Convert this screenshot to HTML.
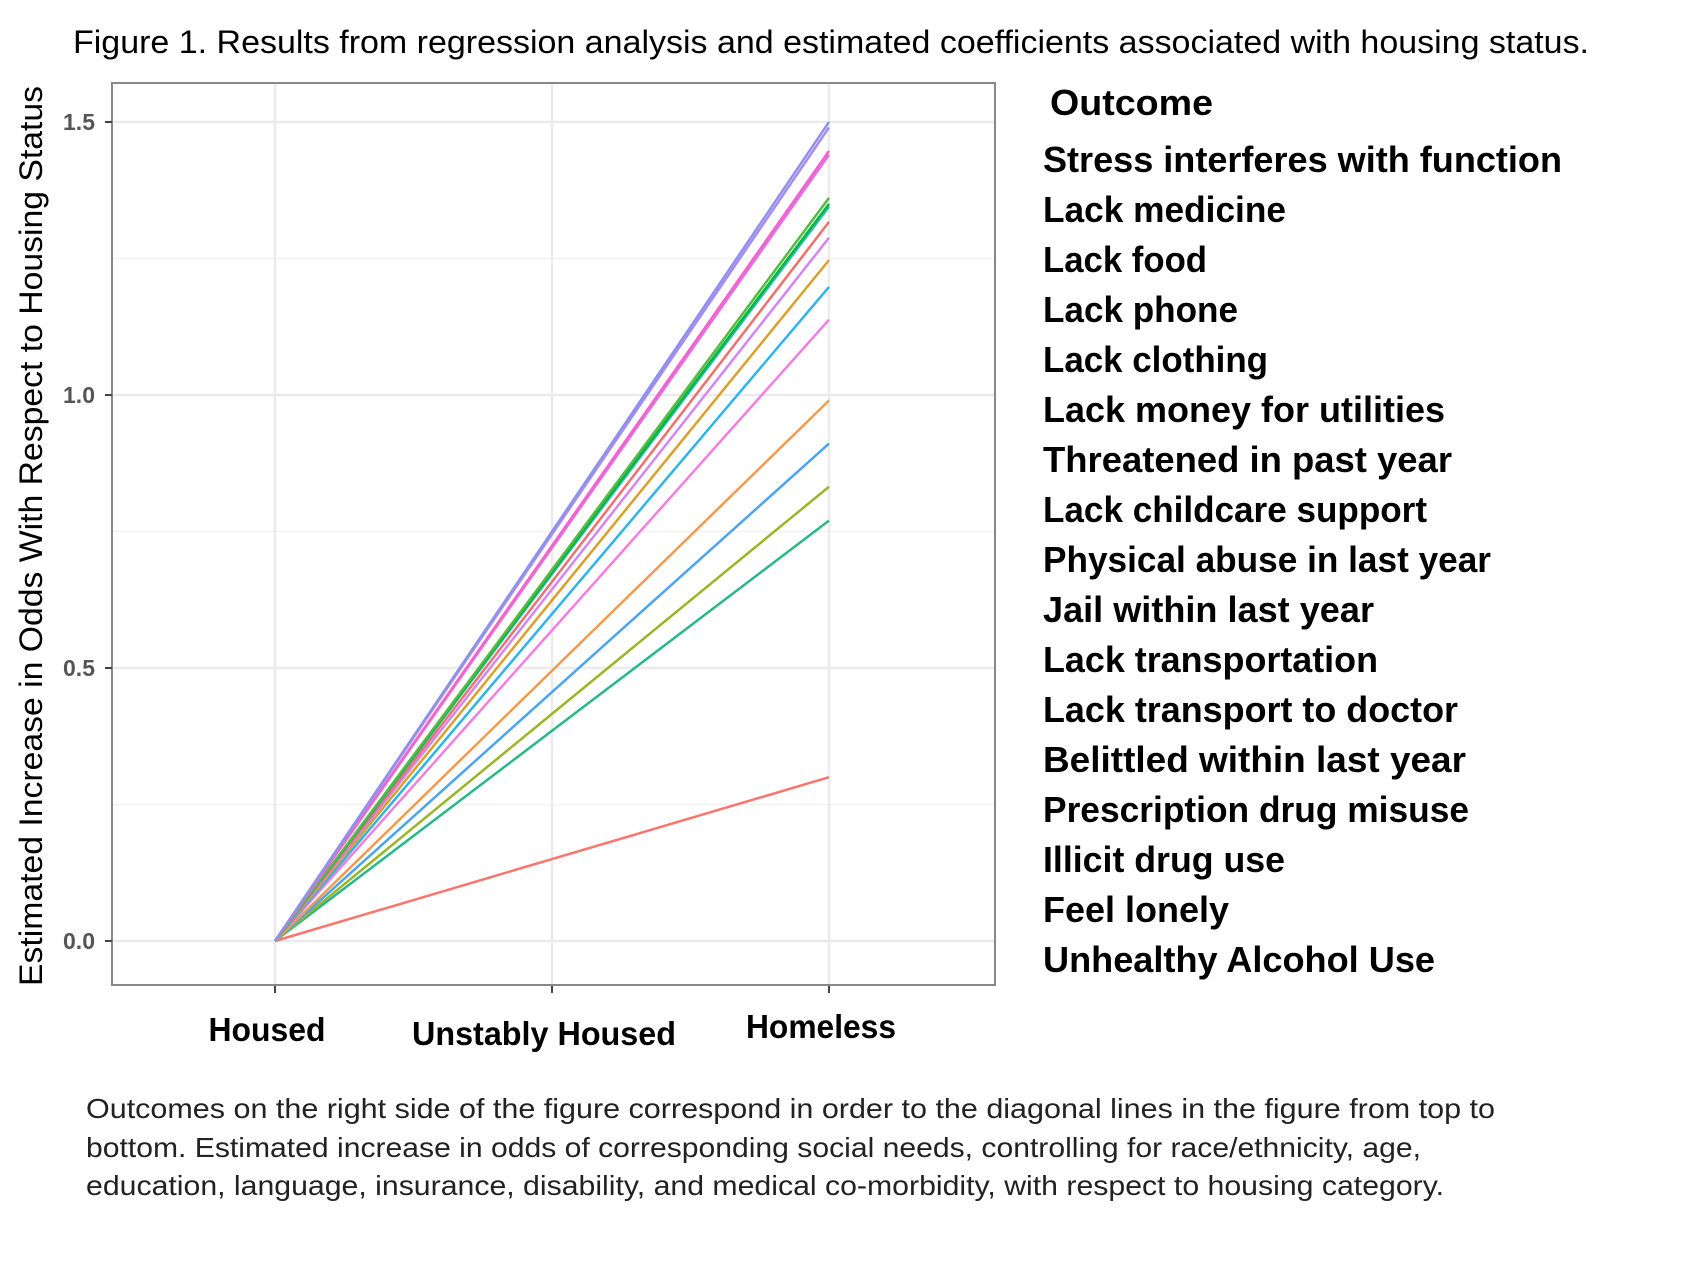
<!DOCTYPE html>
<html><head><meta charset="utf-8"><style>
html,body{margin:0;padding:0;background:#fff;}
svg{display:block;font-family:"Liberation Sans",sans-serif;}
</style></head><body>
<svg id="fig" width="1687" height="1265" viewBox="0 0 1687 1265">
<text x="73" y="53" font-size="32" textLength="1516" lengthAdjust="spacingAndGlyphs">Figure 1. Results from regression analysis and estimated coefficients associated with housing status.</text>
<rect x="112" y="83" width="883" height="902" fill="#fff" stroke="#888" stroke-width="2"/>
<g id="grid"></g>
<g id="lines"></g>
<g id="axes"></g>
<text transform="translate(42,536) rotate(-90)" text-anchor="middle" font-size="32" textLength="900" lengthAdjust="spacingAndGlyphs">Estimated Increase in Odds With Respect to Housing Status</text>
<g font-weight="bold" font-size="36">
<text x="1050" y="115" textLength="163" lengthAdjust="spacingAndGlyphs">Outcome</text>
<text x="1043" y="172" textLength="519" lengthAdjust="spacingAndGlyphs">Stress interferes with function</text>
<text x="1043" y="222" textLength="243" lengthAdjust="spacingAndGlyphs">Lack medicine</text>
<text x="1043" y="272" textLength="164" lengthAdjust="spacingAndGlyphs">Lack food</text>
<text x="1043" y="322" textLength="195" lengthAdjust="spacingAndGlyphs">Lack phone</text>
<text x="1043" y="372" textLength="225" lengthAdjust="spacingAndGlyphs">Lack clothing</text>
<text x="1043" y="422" textLength="402" lengthAdjust="spacingAndGlyphs">Lack money for utilities</text>
<text x="1043" y="472" textLength="409" lengthAdjust="spacingAndGlyphs">Threatened in past year</text>
<text x="1043" y="522" textLength="384" lengthAdjust="spacingAndGlyphs">Lack childcare support</text>
<text x="1043" y="572" textLength="448" lengthAdjust="spacingAndGlyphs">Physical abuse in last year</text>
<text x="1043" y="622" textLength="331" lengthAdjust="spacingAndGlyphs">Jail within last year</text>
<text x="1043" y="672" textLength="335" lengthAdjust="spacingAndGlyphs">Lack transportation</text>
<text x="1043" y="722" textLength="415" lengthAdjust="spacingAndGlyphs">Lack transport to doctor</text>
<text x="1043" y="772" textLength="423" lengthAdjust="spacingAndGlyphs">Belittled within last year</text>
<text x="1043" y="822" textLength="426" lengthAdjust="spacingAndGlyphs">Prescription drug misuse</text>
<text x="1043" y="872" textLength="242" lengthAdjust="spacingAndGlyphs">Illicit drug use</text>
<text x="1043" y="922" textLength="186" lengthAdjust="spacingAndGlyphs">Feel lonely</text>
<text x="1043" y="972" textLength="392" lengthAdjust="spacingAndGlyphs">Unhealthy Alcohol Use</text>
</g>
<g font-size="28" fill="#222">
<text x="86" y="1118" textLength="1409" lengthAdjust="spacingAndGlyphs">Outcomes on the right side of the figure correspond in order to the diagonal lines in the figure from top to</text>
<text x="86" y="1157" textLength="1335" lengthAdjust="spacingAndGlyphs">bottom. Estimated increase in odds of corresponding social needs, controlling for race/ethnicity, age,</text>
<text x="86" y="1195" textLength="1358" lengthAdjust="spacingAndGlyphs">education, language, insurance, disability, and medical co-morbidity, with respect to housing category.</text>
</g>
</svg>
<script>
const categories = ["Housed","Unstably Housed","Homeless"];
const housedVals = [0,0,0,0,0,0,0,0,0,0,0,0,0,0,0,0,0];
const unstableVals = [0.75,0.745,0.724,0.72,0.68,0.675,0.672,0.658,0.644,0.624,0.599,0.569,0.495,0.456,0.416,0.385,0.15];
const homelessVals = [1.5,1.49,1.447,1.44,1.361,1.35,1.345,1.317,1.288,1.247,1.198,1.138,0.99,0.911,0.832,0.77,0.30];
const seriesColors = ["#8E93E6","#A58AFF","#F066C8","#E76BF3","#5BB848","#00BA38","#22BFC4","#F0706C","#D385F5","#D9A02A","#2CB4EC","#F57DE0","#F49A4A","#4AA4F2","#9AB526","#27B88A","#F8766D"];
const yTicks = [0,0.5,1.0,1.5];
const yTickLabels = ["0.0","0.5","1.0","1.5"];
const yMinor = [0.25,0.75,1.25];

const NS="http://www.w3.org/2000/svg";
const xPos = i => 275 + i*277;
const yPos = v => 941 - v*546;
function mk(tag, attrs, parent){const e=document.createElementNS(NS,tag);for(const k in attrs)e.setAttribute(k,attrs[k]);parent.appendChild(e);return e;}
const grid=document.getElementById('grid'), lines=document.getElementById('lines'), axes=document.getElementById('axes');
yMinor.forEach(v=>{const l=mk('line',{x1:113,x2:994,y1:yPos(v),y2:yPos(v),stroke:'#f2f2f2','stroke-width':1.5},grid);

});
yTicks.forEach((v,i)=>{const l=mk('line',{x1:113,x2:994,y1:yPos(v),y2:yPos(v),stroke:'#ebebeb','stroke-width':2.5},grid);


const t=mk('line',{x1:105,x2:112,y1:yPos(v),y2:yPos(v),stroke:'#444','stroke-width':2},axes);


const tx=mk('text',{x:95,y:yPos(v)+8,'text-anchor':'end','font-size':23,'font-weight':'bold',fill:'#555'},axes);
tx.textContent=yTickLabels[i];

});
const xl=[{y:1041,w:117},{y:1045,w:264},{y:1038,w:150}];
categories.forEach((c,i)=>{const l=mk('line',{x1:xPos(i),x2:xPos(i),y1:84,y2:984,stroke:'#ebebeb','stroke-width':2.5},grid);


const t=mk('line',{x1:xPos(i),x2:xPos(i),y1:986,y2:993,stroke:'#444','stroke-width':2},axes);


const tx=mk('text',{x:xPos(i)-8,y:xl[i].y,'text-anchor':'middle','font-size':33,'font-weight':'bold',textLength:xl[i].w,lengthAdjust:'spacingAndGlyphs'},axes);
tx.textContent=c;

});
for(let s=homelessVals.length-1;s>=0;s--){
 const pts=[housedVals[s],unstableVals[s],homelessVals[s]].map((v,i)=>xPos(i)+','+yPos(v)).join(' ');
 const p=mk('polyline',{points:pts,fill:'none',stroke:seriesColors[s],'stroke-width':2.5},lines);
 
 
}
</script>
</body></html>
